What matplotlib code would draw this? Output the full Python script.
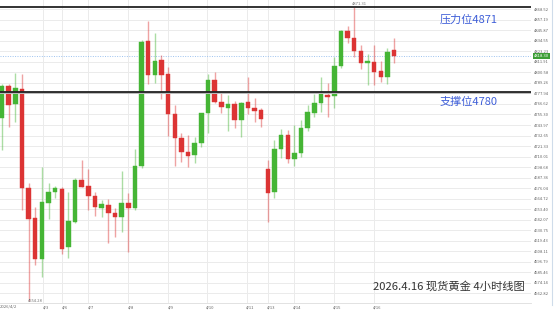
import matplotlib
matplotlib.use("Agg")
import matplotlib.pyplot as plt
import matplotlib.transforms as mtransforms
from matplotlib.lines import Line2D

plt.rcParams['font.family'] = ['Noto Sans CJK SC', 'DejaVu Sans']

# 4h candles, 2026/4/2 .. 4/16
opens = [4751.8, 4786.0, 4766.9, 4782.4, 4675.8, 4643.9, 4599.4, 4660.3, 4672.2, 4675.1,
         4612.3, 4639.9, 4684.8, 4678.3, 4667.6, 4655.0, 4657.6, 4649.6, 4645.3, 4660.3,
         4655.0, 4700.2, 4834.1, 4797.5, 4814.0, 4798.6, 4756.1, 4730.3, 4714.6, 4711.7,
         4724.3, 4756.4, 4792.4, 4768.7, 4762.6, 4766.6, 4749.0, 4768.7, 4762.6, 4760.1,
         4696.6, 4672.2, 4717.8, 4732.9, 4707.1, 4714.2, 4741.1, 4757.2, 4768.0, 4776.6,
         4775.2, 4807.8, 4845.2, 4837.3, 4823.6, 4810.7, 4812.1, 4802.1, 4796.0, 4824.7]
highs = [4788.1, 4788.1, 4800.0, 4798.9, 4681.6, 4656.0, 4699.1, 4681.9, 4678.3, 4677.2,
         4672.2, 4687.3, 4706.3, 4696.9, 4672.2, 4663.3, 4664.0, 4654.3, 4694.5, 4670.5,
         4717.8, 4835.5, 4855.9, 4843.3, 4819.3, 4806.7, 4765.5, 4735.1, 4733.2, 4731.4,
         4757.2, 4798.6, 4800.7, 4778.1, 4776.6, 4770.1, 4768.7, 4795.3, 4772.7, 4762.0,
         4706.3, 4727.8, 4739.7, 4738.6, 4743.7, 4749.4, 4765.5, 4777.0, 4795.3, 4789.5,
         4817.5, 4846.2, 4850.5, 4871.3, 4830.1, 4820.4, 4830.1, 4812.9, 4826.5, 4837.3]
lows = [4717.1, 4742.2, 4747.5, 4652.5, 4554.3, 4593.3, 4580.7, 4643.1, 4665.1, 4605.1,
        4600.5, 4639.0, 4676.9, 4652.5, 4646.0, 4645.3, 4616.6, 4623.8, 4629.1, 4607.6,
        4652.5, 4697.4, 4788.1, 4789.5, 4771.6, 4732.1, 4700.2, 4704.5, 4699.1, 4703.4,
        4720.0, 4735.7, 4767.7, 4757.2, 4737.8, 4741.1, 4730.7, 4755.8, 4747.5, 4741.5,
        4639.9, 4665.1, 4708.8, 4703.4, 4699.9, 4709.9, 4737.8, 4752.3, 4758.3, 4752.9,
        4762.6, 4805.0, 4832.6, 4817.5, 4803.9, 4786.7, 4787.0, 4790.6, 4788.1, 4811.0]
closes = [4786.0, 4765.8, 4783.8, 4675.8, 4642.5, 4599.4, 4660.8, 4671.9, 4676.5, 4610.2,
          4640.3, 4684.8, 4677.6, 4667.6, 4655.4, 4658.6, 4649.6, 4645.3, 4659.7, 4655.0,
          4700.2, 4833.0, 4797.5, 4812.9, 4797.8, 4756.1, 4730.3, 4715.2, 4710.6, 4724.3,
          4756.4, 4792.4, 4768.4, 4763.7, 4766.3, 4749.0, 4768.0, 4762.0, 4759.4, 4750.8,
          4671.1, 4717.8, 4732.9, 4707.1, 4714.2, 4740.8, 4757.7, 4767.3, 4777.0, 4774.4,
          4807.8, 4845.2, 4837.3, 4823.6, 4810.4, 4812.9, 4801.4, 4795.3, 4822.9, 4818.3]

price_ticks = [4868.52, 4857.19, 4845.87, 4834.55, 4823.23, 4811.91, 4800.58, 4789.26,
               4777.94, 4766.62, 4755.30, 4743.97, 4732.65, 4721.33, 4710.01, 4698.68,
               4687.36, 4676.04, 4664.72, 4653.40, 4642.07, 4630.75, 4619.43, 4608.11,
               4596.79, 4585.46, 4574.14, 4562.82]
date_pos = [6.2, 9.0, 12.9, 19.0, 25.0, 30.9, 36.9, 40.0, 44.0, 50.0, 56.0]
date_labels = ['4/3', '4/6', '4/7', '4/8', '4/9', '4/10', '4/11', '4/13', '4/14', '4/15', '4/16']

resistance = 4871
support = 4780
last_price = 4818.30
high_mark = 4871.31
low_mark = 4554.28

GREEN = '#45b535'
RED = '#dc3434'

fig = plt.figure(figsize=(5.59, 3.16), dpi=100)
ax = fig.add_axes([0, 1 - 303 / 316, 531 / 559, 303 / 316])
ax.set_facecolor('white')

idx = list(range(len(opens)))
colors = [GREEN if c >= o else RED for o, c in zip(opens, closes)]
ax.vlines(idx, lows, highs, colors=colors, linewidth=1.0, alpha=0.45, zorder=3)
bottoms = [min(o, c) for o, c in zip(opens, closes)]
heights = [max(abs(c - o), 0.8) for o, c in zip(opens, closes)]
ax.bar(idx, heights, bottom=bottoms, width=0.68, color=colors,
       edgecolor=colors, linewidth=0.3, zorder=4)

ax.set_xlim(-0.3, 79.6)
ax.set_ylim(4552.4, 4878.5)

ax.grid(True, color='#ebebeb', linewidth=0.7, zorder=0)
ax.set_axisbelow(True)

ax.yaxis.tick_right()
ax.set_yticks(price_ticks)
ax.set_yticklabels([f'{p:.2f}' for p in price_ticks])
ax.tick_params(axis='y', length=0, pad=2.2, labelsize=3, labelcolor='#666666')
ax.set_xticks(date_pos)
ax.set_xticklabels(date_labels)
ax.tick_params(axis='x', length=0, pad=2.0, labelsize=3, labelcolor='#666666')
offset = mtransforms.ScaledTranslation(0.03, 0, fig.dpi_scale_trans)
for lbl in ax.get_xticklabels():
    lbl.set_transform(lbl.get_transform() + offset)
ax.text(1.0, -0.004, '2026/4/2', transform=ax.get_xaxis_transform(), ha='center', va='top',
        fontsize=3, color='#666666')

for s in ['top', 'left', 'right']:
    ax.spines[s].set_visible(False)
ax.spines['bottom'].set_color('#dddddd')
ax.spines['bottom'].set_linewidth(0.6)

# key levels
ax.axhline(resistance, color='#222222', linewidth=1.3, zorder=5)
ax.axhline(support - 1.6, color='#bbbbbb', linewidth=1.4, zorder=5)
ax.axhline(support, color='#222222', linewidth=1.3, zorder=6)
ax.axhline(last_price, color='#9cc2ef', linewidth=0.7, linestyle=(0, (1, 1.5)), zorder=2)

ax.text(0.882, 4857.5, '压力位4871', color='#3f5fd8', fontsize=8, ha='center', va='center',
        transform=ax.get_yaxis_transform())
ax.text(0.882, 4768.7, '支撑位4780', color='#3f5fd8', fontsize=8, ha='center', va='center',
        transform=ax.get_yaxis_transform())
ax.text(0.702, 4570, '2026.4.16 现货黄金 4小时线图', color='#333333', fontsize=8.1,
        ha='left', va='center', transform=ax.get_yaxis_transform())

ax.text(52.7, high_mark + 1, f'{high_mark:.2f}', fontsize=3, color='#777777',
        ha='left', va='bottom', clip_on=False)
ax.text(3.9, low_mark, f'{low_mark:.2f}', fontsize=3, color='#777777',
        ha='left', va='center', clip_on=False, zorder=7)

ax.text(1.006, last_price, f'{last_price:.2f}', transform=ax.get_yaxis_transform(),
        fontsize=3, color='white', ha='left', va='center', clip_on=False, zorder=8,
        bbox=dict(boxstyle='square,pad=0.25', facecolor='#3d9e36', edgecolor='none'))

fig.add_artist(Line2D([552 / 559, 552 / 559], [1 - 305 / 316, 1], color='#cfdcea',
                      linewidth=0.8, transform=fig.transFigure))

fig.savefig('out.png', dpi=100, facecolor='white')
